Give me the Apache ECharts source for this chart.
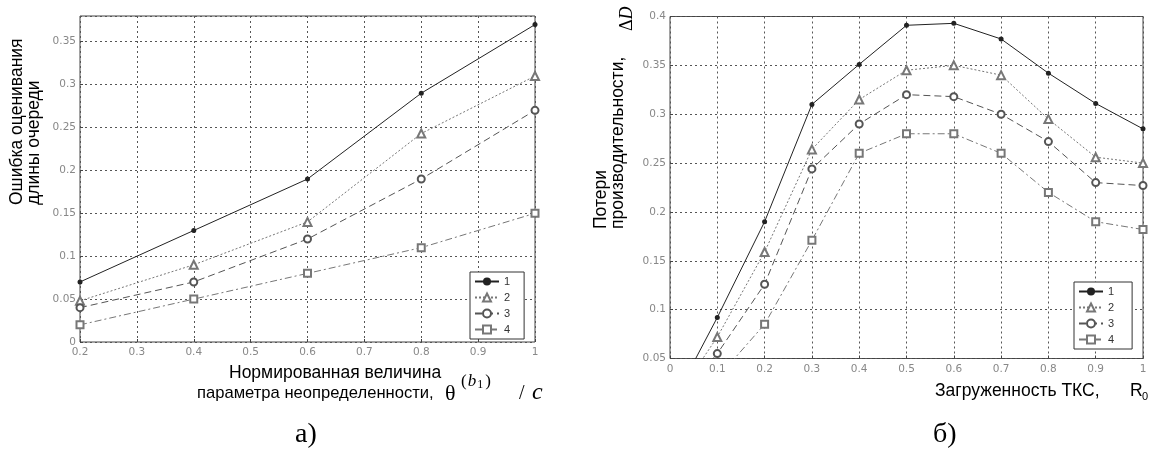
<!DOCTYPE html>
<html>
<head>
<meta charset="utf-8">
<script src="https://cdn.jsdelivr.net/npm/echarts@6/dist/echarts.min.js"></script>
<style>
html,body{margin:0;padding:0;background:#fff;}
#chart{width:1157px;height:455px;}
</style>
</head>
<body>
<div id="chart"></div>
<script>
// ---- Data: chart (a) ----
const xA = [0.2, 0.4, 0.6, 0.8, 1.0];
const errA1 = [0.07, 0.13, 0.19, 0.29, 0.37];
const errA2 = [0.048, 0.09, 0.14, 0.243, 0.31];
const errA3 = [0.04, 0.07, 0.12, 0.19, 0.27];
const errA4 = [0.02, 0.05, 0.08, 0.11, 0.15];

// ---- Data: chart (б) ----
const xB = [0, 0.1, 0.2, 0.3, 0.4, 0.5, 0.6, 0.7, 0.8, 0.9, 1.0];
const lossB1 = [0, 0.092, 0.19, 0.31, 0.351, 0.391, 0.393, 0.377, 0.342, 0.311, 0.285];
const lossB2 = [0, 0.072, 0.159, 0.264, 0.315, 0.345, 0.35, 0.34, 0.295, 0.256, 0.25];
const lossB3 = [0, 0.055, 0.126, 0.244, 0.29, 0.32, 0.318, 0.30, 0.272, 0.23, 0.227];
const lossB4 = [0, 0.03, 0.085, 0.171, 0.26, 0.28, 0.28, 0.26, 0.22, 0.19, 0.182];

const seriesNames = ['1', '2', '3', '4'];

// ---- Styles ----
const styles = [
  {color: '#222', type: 'solid', symbol: 'circle', size: 5},
  {color: '#777', type: [2, 2], symbol: 'emptyTriangle', size: 8},
  {color: '#555', type: [7, 4], symbol: 'emptyCircle', size: 7},
  {color: '#777', type: [7, 3, 2, 3], symbol: 'emptyRect', size: 7}
];

const SANS = '"Liberation Sans", Arial, sans-serif';
const SERIF = '"Liberation Serif", "Times New Roman", serif';
const TICKF = '"DejaVu Sans", sans-serif';
const fmt = v => String(+v.toFixed(3));

function pairs(xs, ys) { return xs.map((x, i) => [x, ys[i]]); }

function mkSeries(gridIdx, xs, arrs) {
  return arrs.map((ys, i) => ({
    type: 'line',
    name: seriesNames[i],
    xAxisIndex: gridIdx,
    yAxisIndex: gridIdx,
    data: pairs(xs, ys),
    clip: true,
    symbol: styles[i].symbol,
    symbolSize: styles[i].size,
    lineStyle: {color: styles[i].color, width: 1, type: styles[i].type},
    itemStyle: {color: styles[i].color, borderWidth: 1},
    emphasis: {disabled: true}
  }));
}

const splitLine = {show: true, lineStyle: {color: '#555', width: 1, type: [2, 3]}};
const axisLabel = {color: '#888', fontSize: 10.5, fontFamily: TICKF, formatter: fmt};
const axisTick = {show: true, inside: true, length: 3, lineStyle: {color: '#444'}};

const chart = echarts.init(document.getElementById('chart'), null, {renderer: 'canvas'});

const T = 17.5;
const txt = (s, x, y, rot, extra) => ({
  type: 'text', x: x, y: y, rotation: rot || 0,
  style: Object.assign({text: s, fontSize: T, fontFamily: SANS, fill: '#000', textAlign: 'left', textVerticalAlign: 'middle'}, extra || {})
});

const option = {
  animation: false,
  backgroundColor: '#fff',
  grid: [
    {left: 80, top: 16, width: 455, height: 326, show: true, borderColor: '#444', borderWidth: 1, backgroundColor: 'transparent'},
    {left: 670, top: 16.5, width: 473, height: 342, show: true, borderColor: '#444', borderWidth: 1, backgroundColor: 'transparent'}
  ],
  xAxis: [
    {type: 'value', gridIndex: 0, min: 0.2, max: 1, interval: 0.1,
     axisLine: {show: false}, axisTick: axisTick,
     axisLabel: Object.assign({margin: 5}, axisLabel), splitLine: splitLine},
    {type: 'value', gridIndex: 1, min: 0, max: 1, interval: 0.1,
     axisLine: {show: false}, axisTick: axisTick,
     axisLabel: Object.assign({margin: 5}, axisLabel), splitLine: splitLine}
  ],
  yAxis: [
    {type: 'value', gridIndex: 0, min: 0, max: 0.38, interval: 0.05,
     axisLine: {show: false}, axisTick: axisTick,
     axisLabel: Object.assign({margin: 4, showMaxLabel: false}, axisLabel), splitLine: splitLine},
    {type: 'value', gridIndex: 1, min: 0.05, max: 0.4, interval: 0.05,
     axisLine: {show: false}, axisTick: axisTick,
     axisLabel: Object.assign({margin: 4}, axisLabel), splitLine: splitLine}
  ],
  legend: [
    {data: seriesNames, orient: 'vertical', left: 470, top: 272, padding: [4, 14, 4, 4], itemGap: 5,
     itemWidth: 24, itemHeight: 10, backgroundColor: '#fff', borderColor: '#333', borderWidth: 1,
     textStyle: {color: '#333', fontSize: 11, fontFamily: SANS}, selectedMode: false},
    {data: seriesNames, orient: 'vertical', left: 1074, top: 282, padding: [4, 18, 4, 4], itemGap: 5,
     itemWidth: 24, itemHeight: 10, backgroundColor: '#fff', borderColor: '#333', borderWidth: 1,
     textStyle: {color: '#333', fontSize: 11, fontFamily: SANS}, selectedMode: false}
  ],
  series: [].concat(
    mkSeries(0, xA, [errA1, errA2, errA3, errA4]),
    mkSeries(1, xB, [lossB1, lossB2, lossB3, lossB4])
  ),
  graphic: [
    // (a) y title
    txt('Ошибка оценивания', 17, 205, Math.PI / 2),
    txt('длины очереди', 34, 205, Math.PI / 2),
    // (a) x title
    txt('Нормированная величина', 229, 373),
    txt('параметра неопределенности,', 197, 393, 0, {fontSize: 16.6}),
    txt('θ', 445, 394, 0, {fontSize: 22, fontFamily: SERIF}),
    {type: 'text', x: 460, y: 382,
     style: {text: '{p|(}{b|b}{o|1}{p|)}', fill: '#000', textAlign: 'left', textVerticalAlign: 'middle',
       rich: {p: {fontSize: 17, fontFamily: SERIF, lineHeight: 18, verticalAlign: 'middle', padding: [0, 1, 0, 1]},
              b: {fontSize: 17, fontFamily: SERIF, fontStyle: 'italic', lineHeight: 18, verticalAlign: 'middle'},
              o: {fontSize: 12, fontFamily: SERIF, lineHeight: 18, verticalAlign: 'bottom', padding: [0, 1, 0, 1]}}}},
    txt('/', 519, 394, 0, {fontSize: 20, fontFamily: SERIF}),
    txt('c', 532, 393, 0, {fontSize: 24, fontFamily: SERIF, fontStyle: 'italic'}),
    // captions
    txt('а)', 295, 435, 0, {fontSize: 28, fontFamily: SERIF}),
    txt('б)', 933, 435, 0, {fontSize: 28, fontFamily: SERIF}),
    // (б) y title
    txt('Потери', 601, 229, Math.PI / 2),
    txt('производительности,', 618, 229, Math.PI / 2),
    {type: 'text', x: 627, y: 31, rotation: Math.PI / 2,
     style: {text: '{d|Δ}{i|D}', fill: '#000', textAlign: 'left', textVerticalAlign: 'middle',
       rich: {d: {fontSize: 18, fontFamily: SERIF}, i: {fontSize: 18, fontFamily: SERIF, fontStyle: 'italic'}}}},
    // (б) x title
    txt('Загруженность ТКС,', 935, 391),
    txt('R', 1130, 391),
    txt('0', 1142, 397, 0, {fontSize: 11})
  ]
};
chart.setOption(option);
</script>
</body>
</html>
